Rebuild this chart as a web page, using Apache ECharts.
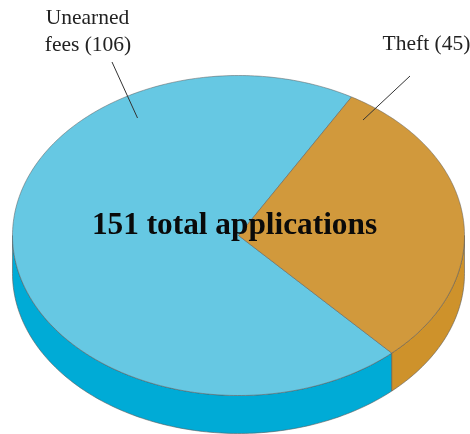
<!DOCTYPE html>
<html>
<head>
<meta charset="utf-8">
<style>html,body{margin:0;padding:0;background:#fff}#chart{width:470px;height:434px}</style>
<script src="https://cdn.jsdelivr.net/npm/echarts@6/dist/echarts.min.js"></script>
</head>
<body>
<div id="chart"></div>
<script>
// Applications by reason
const categories = ['Unearned fees', 'Theft'];
const applications = [106, 45];
const totalLabel = '151 total applications';

// Disc geometry
const cx = 238.5, cy = 235.5, rx = 226, ry = 160, depth = 38;
const startDeg = 47.3; // clockwise from 3 o'clock
const topColors = ['#66C8E3', '#D1993C'];
const wallColors = ['#00ABD6', '#CE922B'];
const edgeColor = '#5a5a5a';

const total = applications.reduce((a, b) => a + b, 0);
const spanOf = i => {
  let from = startDeg;
  for (let k = 0; k < i; k++) from += applications[k] / total * 360;
  return [from, from + applications[i] / total * 360];
};
const rim = (deg, dy) => {
  const t = deg * Math.PI / 180;
  return [cx + rx * Math.cos(t), cy + dy + ry * Math.sin(t)];
};
const arc = (a, b, dy) => {
  const n = Math.max(2, Math.ceil(Math.abs(b - a)));
  const pts = [];
  for (let i = 0; i <= n; i++) pts.push(rim(a + (b - a) * i / n, dy));
  return pts;
};

function renderWall(params) {
  const [from, to] = spanOf(params.dataIndex);
  const children = [];
  // only the front half of the rim (0-180 degrees, repeating) faces the viewer
  [[0, 180], [360, 540]].forEach(([lo, hi]) => {
    const a = Math.max(from, lo), b = Math.min(to, hi);
    if (b <= a) return;
    children.push({
      type: 'polygon',
      shape: { points: arc(a, b, 0).concat(arc(b, a, depth)) },
      style: { fill: wallColors[params.dataIndex], stroke: edgeColor, lineWidth: 0.6 }
    });
  });
  return { type: 'group', children };
}

function renderTop(params) {
  const [from, to] = spanOf(params.dataIndex);
  return {
    type: 'polygon',
    shape: { points: [[cx, cy]].concat(arc(from, to, 0)) },
    style: { fill: topColors[params.dataIndex], stroke: edgeColor, lineWidth: 0.5 }
  };
}

const serifFont = '"Liberation Serif", "Times New Roman", serif';
const chart = echarts.init(document.getElementById('chart'), null, { renderer: 'canvas' });
chart.setOption({
  animation: false,
  backgroundColor: '#fff',
  series: [
    { type: 'custom', coordinateSystem: 'none', silent: true, renderItem: renderWall, data: applications, z: 1 },
    { type: 'custom', coordinateSystem: 'none', silent: true, renderItem: renderTop, data: applications, z: 2 }
  ],
  graphic: [
    { type: 'polyline', z: 5, silent: true, shape: { points: [[112, 62], [137.5, 118]] }, style: { stroke: '#333', lineWidth: 1, fill: null } },
    { type: 'polyline', z: 5, silent: true, shape: { points: [[410, 76], [363, 120]] }, style: { stroke: '#333', lineWidth: 1, fill: null } },
    { type: 'text', z: 5, silent: true, x: 87.5, y: 18, style: { text: 'Unearned', font: '21.5px ' + serifFont, fill: '#222', align: 'center', verticalAlign: 'middle' } },
    { type: 'text', z: 5, silent: true, x: 88, y: 45, style: { text: 'fees (' + applications[0] + ')', font: '21.5px ' + serifFont, fill: '#222', align: 'center', verticalAlign: 'middle' } },
    { type: 'text', z: 5, silent: true, x: 426.5, y: 44.5, style: { text: categories[1] + ' (' + applications[1] + ')', font: '21.5px ' + serifFont, fill: '#222', align: 'center', verticalAlign: 'middle' } },
    { type: 'text', z: 5, silent: true, x: 234.5, y: 226, style: { text: totalLabel, font: 'bold 31.3px ' + serifFont, fill: '#0a0a0a', align: 'center', verticalAlign: 'middle' } }
  ]
});
</script>
</body>
</html>
